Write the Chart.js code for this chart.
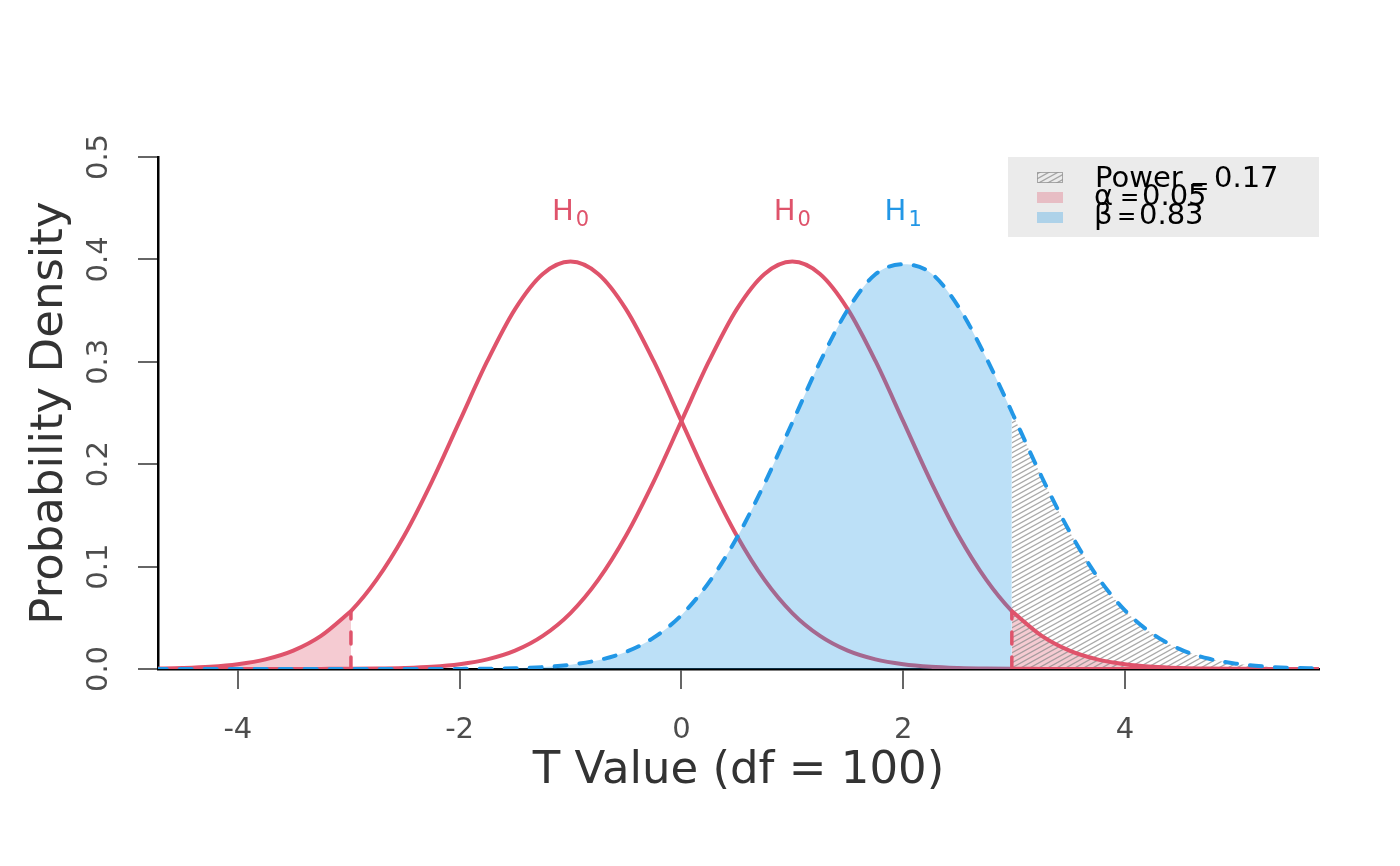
<!DOCTYPE html>
<html>
<head>
<meta charset="utf-8">
<script src="https://cdn.jsdelivr.net/npm/chart.js@4.4.1/dist/chart.umd.min.js"></script>
<style>
  html, body { margin: 0; padding: 0; background: #ffffff; }
  #wrap { width: 1400px; height: 866px; position: relative; }
</style>
</head>
<body>
<div id="wrap"><canvas id="c"></canvas></div>
<script>
// ---------------- data ----------------
const tValues = [-4.75, -4.5, -4.25, -4, -3.75, -3.5, -3.25, -3, -2.98, -2.75, -2.5, -2.25, -2, -1.75, -1.5, -1.25,
  -1, -0.75, -0.5, -0.25, 0, 0.25, 0.5, 0.75, 1, 1.25, 1.5, 1.75, 2, 2.25, 2.5, 2.75, 2.98, 3, 3.25, 3.5,
  3.75, 4, 4.25, 4.5, 4.75, 5, 5.25, 5.5, 5.75];

const h0LeftDensity = [0.0004, 0.0010, 0.0022, 0.0047, 0.0094, 0.0179, 0.0323, 0.0546, 0.0565, 0.0870, 0.1301, 0.1830,
  0.2420, 0.3008, 0.3515, 0.3858, 0.3979, 0.3858, 0.3515, 0.3008, 0.2420, 0.1830, 0.1301, 0.0870, 0.0546,
  0.0323, 0.0179, 0.0094, 0.0047, 0.0022, 0.0010, 0.0004, 0.0002, 0.0002, 0.0001, 0.0000, 0.0000, 0.0000,
  0.0000, 0.0000, 0.0000, 0.0000, 0.0000, 0.0000, 0.0000];

const h0RightDensity = [0.0000, 0.0000, 0.0000, 0.0000, 0.0000, 0.0000, 0.0001, 0.0002, 0.0002, 0.0004, 0.0010, 0.0022,
  0.0047, 0.0094, 0.0179, 0.0323, 0.0546, 0.0870, 0.1301, 0.1830, 0.2420, 0.3008, 0.3515, 0.3858, 0.3979,
  0.3858, 0.3515, 0.3008, 0.2420, 0.1830, 0.1301, 0.0870, 0.0565, 0.0546, 0.0323, 0.0179, 0.0094, 0.0047,
  0.0022, 0.0010, 0.0004, 0.0002, 0.0001, 0.0000, 0.0000];

const h1Density = [0.0000, 0.0000, 0.0000, 0.0000, 0.0000, 0.0000, 0.0000, 0.0000, 0.0000, 0.0000, 0.0000, 0.0000,
  0.0001, 0.0003, 0.0008, 0.0019, 0.0042, 0.0086, 0.0167, 0.0306, 0.0526, 0.0849, 0.1281, 0.1812, 0.2406,
  0.2998, 0.3509, 0.3855, 0.3952, 0.3867, 0.3535, 0.3036, 0.2510, 0.2462, 0.1875, 0.1343, 0.0904, 0.0572,
  0.0342, 0.0192, 0.0102, 0.0052, 0.0025, 0.0011, 0.0005];

const critLower = -2.98;
const critUpper = 2.98;

const xTickValues = [-4, -2, 0, 2, 4];
const xTickLabels = ['-4', '-2', '0', '2', '4'];
const yTickValues = [0, 0.1, 0.2, 0.3, 0.4, 0.5];
const yTickLabels = ['0.0', '0.1', '0.2', '0.3', '0.4', '0.5'];

const curveLabelMain = ['H', 'H', 'H'];
const curveLabelSub = ['0', '0', '1'];
const curveLabelT = [-1, 1, 2];
const curveLabelDensity = 0.448;

const legendNames = ['Power', '\u03B1', '\u03B2'];
const legendValues = ['0.17', '0.05', '0.83'];

const xTitle = 'T Value (df = 100)';
const yTitle = 'Probability Density';

// ---------------- styles ----------------
const RED = '#DF536B';
const BLUE = '#2297E6';
const RED_FILL = 'rgba(223,83,107,0.30)';
const BLUE_FILL = 'rgba(34,151,230,0.30)';
const FONT = 'DejaVu Sans';

function makeHatch() {
  const c = document.createElement('canvas');
  c.width = 18; c.height = 10;
  const g = c.getContext('2d');
  g.strokeStyle = 'rgba(140,140,140,0.75)';
  g.lineWidth = 1.25;
  for (let k = -3; k <= 3; k++) {
    g.beginPath();
    g.moveTo(-2, 10 + k * 5 + 2 * 10 / 18);
    g.lineTo(20, 0 + k * 5 - 2 * 10 / 18);
    g.stroke();
  }
  return g.createPattern(c, 'repeat');
}
const hatch = makeHatch();

const pts = (ys) => tValues.map((x, i) => ({ x: x, y: ys[i] }));
const sub = (ys, test) => tValues.map((x, i) => ({ x: x, y: ys[i] })).filter(p => test(p.x));
const at = (ys, t) => ys[tValues.indexOf(t)];

const base = { pointRadius: 0, pointHoverRadius: 0, cubicInterpolationMode: 'monotone', tension: 0.4 };

const datasets = [
  // pink alpha regions
  Object.assign({}, base, { data: sub(h0LeftDensity, x => x <= critLower), borderWidth: 0, borderColor: 'transparent',
    backgroundColor: RED_FILL, fill: 'origin', order: 10 }),
  Object.assign({}, base, { data: sub(h0RightDensity, x => x >= critUpper), borderWidth: 0, borderColor: 'transparent',
    backgroundColor: RED_FILL, fill: 'origin', order: 10 }),
  // power hatch
  Object.assign({}, base, { data: sub(h1Density, x => x >= critUpper), borderWidth: 0, borderColor: 'transparent',
    backgroundColor: hatch, fill: 'origin', order: 9 }),
  // red H0 curves
  Object.assign({}, base, { data: pts(h0LeftDensity), borderColor: RED, borderWidth: 4, fill: false, order: 8 }),
  Object.assign({}, base, { data: pts(h0RightDensity), borderColor: RED, borderWidth: 4, fill: false, order: 8 }),
  // beta fill
  Object.assign({}, base, { data: sub(h1Density, x => x <= critUpper), borderWidth: 0, borderColor: 'transparent',
    backgroundColor: BLUE_FILL, fill: 'origin', order: 7 }),
  // critical dashed verticals
  { data: [{ x: critLower, y: 0 }, { x: critLower, y: at(h0LeftDensity, critLower) }], borderColor: RED, borderWidth: 3.5,
    borderDash: [12, 13], borderCapStyle: 'round', pointRadius: 0, fill: false, order: 6 },
  { data: [{ x: critUpper, y: 0 }, { x: critUpper, y: at(h0RightDensity, critUpper) }], borderColor: RED, borderWidth: 3.5,
    borderDash: [12, 13], borderCapStyle: 'round', pointRadius: 0, fill: false, order: 6 },
  // H1 dashed curve
  Object.assign({}, base, { data: pts(h1Density), borderColor: BLUE, borderWidth: 4, borderDash: [12, 13],
    borderCapStyle: 'round', fill: false, order: 5 })
];

const labelPlugin = {
  id: 'curveLabels',
  afterDatasetsDraw(chart) {
    const ctx = chart.ctx, xs = chart.scales.x, ys = chart.scales.y;
    ctx.save();
    ctx.textBaseline = 'alphabetic';
    for (let i = 0; i < curveLabelT.length; i++) {
      const cx = xs.getPixelForValue(curveLabelT[i]);
      const cy = ys.getPixelForValue(curveLabelDensity);
      ctx.font = '29px "' + FONT + '"';
      const wMain = ctx.measureText(curveLabelMain[i]).width;
      ctx.font = '21px "' + FONT + '"';
      const wSub = ctx.measureText(curveLabelSub[i]).width;
      const left = cx - (wMain + 2 + wSub) / 2;
      ctx.fillStyle = i === 2 ? BLUE : RED;
      ctx.font = '29px "' + FONT + '"';
      ctx.textAlign = 'left';
      ctx.fillText(curveLabelMain[i], left, cy + 10);
      ctx.font = '21px "' + FONT + '"';
      ctx.fillText(curveLabelSub[i], left + wMain + 2, cy + 16);
    }
    ctx.restore();
  },
  afterDraw(chart) {
    const ctx = chart.ctx;
    ctx.save();
    // legend box
    const bx = 1008, by = 157, bw = 311, bh = 80;
    ctx.fillStyle = '#EBEBEB';
    ctx.fillRect(bx, by, bw, bh);
    const swX = 1037, swW = 26, swH = 11;
    const rows = [172, 192, 212];
    const fills = [hatch, 'rgba(223,83,107,0.30)', 'rgba(34,151,230,0.30)'];
    for (let i = 0; i < 3; i++) {
      ctx.fillStyle = fills[i];
      ctx.fillRect(swX, rows[i], swW, swH);
      if (i === 0) {
        ctx.strokeStyle = 'rgba(150,150,150,0.8)';
        ctx.lineWidth = 1;
        ctx.strokeRect(swX + 0.5, rows[i] + 0.5, swW - 1, swH - 1);
      }
    }
    ctx.fillStyle = '#000000';
    ctx.textAlign = 'left';
    ctx.textBaseline = 'alphabetic';
    // row 1: Power
    ctx.font = '29px "' + FONT + '"';
    ctx.fillText(legendNames[0], 1095, 187);
    ctx.font = '23px "' + FONT + '"';
    ctx.fillText('=', 1190, 194);
    ctx.font = '29px "' + FONT + '"';
    ctx.fillText(legendValues[0], 1214, 187);
    // row 2: alpha
    ctx.font = '29px "' + FONT + '"';
    ctx.fillText(legendNames[1], 1094, 205);
    ctx.font = '23px "' + FONT + '"';
    ctx.fillText('=', 1120, 205);
    ctx.font = '29px "' + FONT + '"';
    ctx.fillText(legendValues[1], 1142, 205);
    // row 3: beta
    ctx.font = '29px "' + FONT + '"';
    ctx.fillText(legendNames[2], 1094, 224);
    ctx.font = '23px "' + FONT + '"';
    ctx.fillText('=', 1117, 224);
    ctx.font = '29px "' + FONT + '"';
    ctx.fillText(legendValues[2], 1139, 224);
    ctx.restore();
  }
};

new Chart(document.getElementById('c'), {
  type: 'line',
  data: { datasets: datasets },
  plugins: [labelPlugin],
  options: {
    responsive: true,
    maintainAspectRatio: false,
    devicePixelRatio: 1,
    animation: false,
    events: [],
    layout: { padding: { top: 157, right: 81, left: 0, bottom: 0 } },
    plugins: { legend: { display: false }, tooltip: { enabled: false } },
    scales: {
      x: {
        type: 'linear',
        min: -4.72,
        max: 5.75,
        afterFit: (s) => { s.height = 197; },
        afterBuildTicks: (s) => { s.ticks = xTickValues.map(v => ({ value: v })); },
        ticks: {
          callback: (v, i) => xTickLabels[i],
          font: { family: FONT, size: 29 },
          color: '#4D4D4D',
          padding: 24,
          maxRotation: 0,
          minRotation: 0,
          autoSkip: false,
          includeBounds: false
        },
        grid: { drawOnChartArea: false, drawTicks: true, tickLength: 20, color: '#666666', lineWidth: 2 },
        border: { display: true, color: '#000000', width: 2.5 },
        title: { display: true, text: xTitle, font: { family: FONT, size: 45 }, color: '#333333',
          padding: { top: 0, bottom: 68 } }
      },
      y: {
        type: 'linear',
        min: 0,
        max: 0.5,
        afterFit: (s) => { s.width = 158; },
        afterBuildTicks: (s) => { s.ticks = yTickValues.map(v => ({ value: v })); },
        ticks: {
          callback: (v, i) => yTickLabels[i],
          font: { family: FONT, size: 29 },
          color: '#4D4D4D',
          padding: 15,
          minRotation: 90,
          maxRotation: 90,
          crossAlign: 'center',
          autoSkip: false
        },
        grid: { drawOnChartArea: false, drawTicks: true, tickLength: 20, color: '#666666', lineWidth: 2 },
        border: { display: true, color: '#000000', width: 2.5 },
        title: { display: true, text: yTitle, font: { family: FONT, size: 45 }, color: '#333333',
          padding: { top: 23, bottom: 0 } }
      }
    }
  }
});
</script>
</body>
</html>
